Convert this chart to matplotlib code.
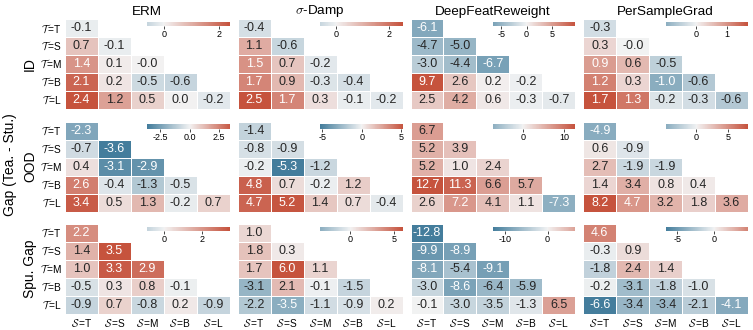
import numpy as np
import matplotlib
matplotlib.use("Agg")
import matplotlib.pyplot as plt
import seaborn as sns

plt.rcParams['font.family'] = ['Liberation Sans', 'DejaVu Sans']
plt.rcParams['mathtext.fontset'] = 'cm'

methods = ['ERM', r'$\sigma$-Damp', 'DeepFeatReweight', 'PerSampleGrad']
metrics = ['ID', 'OOD', 'Spu. Gap']
sizes = ['T', 'S', 'M', 'B', 'L']

# lower-triangular tables, rows = teacher size, cols = student size
erm_id = [[-0.1], [0.7, -0.1], [1.4, 0.1, -0.0], [2.1, 0.2, -0.5, -0.6], [2.4, 1.2, 0.5, 0.0, -0.2]]
damp_id = [[-0.4], [1.1, -0.6], [1.5, 0.7, -0.2], [1.7, 0.9, -0.3, -0.4], [2.5, 1.7, 0.3, -0.1, -0.2]]
dfr_id = [[-6.1], [-4.7, -5.0], [-3.0, -4.4, -6.7], [9.7, 2.6, 0.2, -0.2], [2.5, 4.2, 0.6, -0.3, -0.7]]
psg_id = [[-0.3], [0.3, -0.0], [0.9, 0.6, -0.5], [1.2, 0.3, -1.0, -0.6], [1.7, 1.3, -0.2, -0.3, -0.6]]

erm_ood = [[-2.3], [-0.7, -3.6], [0.4, -3.1, -2.9], [2.6, -0.4, -1.3, -0.5], [3.4, 0.5, 1.3, -0.2, 0.7]]
damp_ood = [[-1.4], [-0.8, -0.9], [-0.2, -5.3, -1.2], [4.8, 0.7, -0.2, 1.2], [4.7, 5.2, 1.4, 0.7, -0.4]]
dfr_ood = [[6.7], [5.2, 3.9], [5.2, 1.0, 2.4], [12.7, 11.3, 6.6, 5.7], [2.6, 7.2, 4.1, 1.1, -7.3]]
psg_ood = [[-4.9], [0.6, -0.9], [2.7, -1.9, -1.9], [1.4, 3.4, 0.8, 0.4], [8.2, 4.7, 3.2, 1.8, 3.6]]

erm_spu = [[2.2], [1.4, 3.5], [1.0, 3.3, 2.9], [-0.5, 0.3, 0.8, -0.1], [-0.9, 0.7, -0.8, 0.2, -0.9]]
damp_spu = [[1.0], [1.8, 0.3], [1.7, 6.0, 1.1], [-3.1, 2.1, -0.1, -1.5], [-2.2, -3.5, -1.1, -0.9, 0.2]]
dfr_spu = [[-12.8], [-9.9, -8.9], [-8.1, -5.4, -9.1], [-3.0, -8.6, -6.4, -5.9], [-0.1, -3.0, -3.5, -1.3, 6.5]]
psg_spu = [[4.6], [-0.3, 0.9], [-1.8, 2.4, 1.4], [-0.2, -3.1, -1.8, -1.0], [-6.6, -3.4, -3.4, -2.1, -4.1]]

tables = [[erm_id, damp_id, dfr_id, psg_id],
          [erm_ood, damp_ood, dfr_ood, psg_ood],
          [erm_spu, damp_spu, dfr_spu, psg_spu]]

# colorbar ticks as shown on each panel
cbar_ticks = [[[0, 2], [0, 2], [-5, 0, 5], [0, 1]],
              [[-2.5, 0.0, 2.5], [-5, 0, 5], [0, 10], [0, 5]],
              [[0, 2], [0, 5], [-10, 0], [-5, 0]]]


def to_matrix(rows):
    m = np.full((5, 5), np.nan)
    for i, r in enumerate(rows):
        m[i, :len(r)] = r
    return m


cmap = sns.diverging_palette(232, 18, s=72, l=50, as_cmap=True)

fig, axes = plt.subplots(3, 4, figsize=(7.53, 3.30), dpi=100)
fig.subplots_adjust(left=0.0863, right=0.9934, top=0.9415, bottom=0.048,
                    wspace=0.0485, hspace=0.14)

ylabels = [r'$\mathcal{T}\,$=' + s for s in sizes]
xlabels = [r'$\mathcal{S}\,$=' + s for s in sizes]

for r in range(3):
    for c in range(4):
        ax = axes[r, c]
        data = to_matrix(tables[r][c])
        cax = ax.inset_axes([0.5, 0.925, 0.5, 0.05])
        sns.heatmap(data, ax=ax, cmap=cmap, center=0, annot=True, fmt='.1f',
                    annot_kws={'size': 9}, linewidths=0.6, linecolor='white',
                    cbar_ax=cax, cbar_kws={'orientation': 'horizontal'},
                    xticklabels=xlabels, yticklabels=ylabels)
        cb = ax.collections[0].colorbar
        cb.outline.set_visible(False)
        ticks = cbar_ticks[r][c]
        cb.set_ticks(ticks)
        if any(isinstance(t, float) for t in ticks):
            cb.set_ticklabels([f'{t:.1f}' for t in ticks])
        else:
            cb.set_ticklabels([str(t) for t in ticks])
        cax.tick_params(labelsize=6.5, length=2, width=0.5, pad=1)
        ax.tick_params(length=0, labelsize=7.3, pad=2)
        if r == 0:
            ax.set_title(methods[c], fontsize=9.7, pad=3)
        if c == 0:
            ax.set_ylabel(metrics[r], fontsize=10, labelpad=2)
            ax.set_yticklabels(ylabels, rotation=0)
        else:
            ax.set_yticks([])
        if r == 2:
            ax.set_xticklabels(xlabels, rotation=0)
        else:
            ax.set_xticks([])

fig.text(0.013, 0.5, 'Gap (Tea. - Stu.)', rotation=90, va='center', ha='center', fontsize=10)

fig.savefig('out.png', dpi=100)
